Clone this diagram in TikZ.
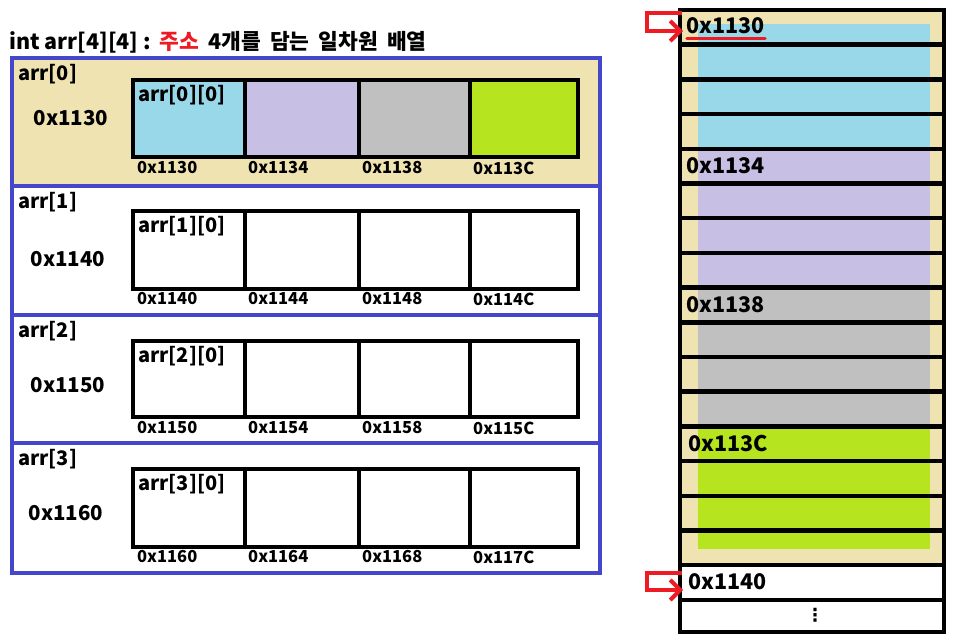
\documentclass[tikz,border=0pt]{standalone}
\usepackage{fontspec}
\setmainfont{Noto Sans CJK KR}
\newfontfamily\dv{DejaVu Sans}
\usetikzlibrary{arrows.meta}
\definecolor{bdblue}{RGB}{68,70,204}
\definecolor{tanbg}{RGB}{239,227,178}
\definecolor{cblue}{RGB}{152,216,232}
\definecolor{clav}{RGB}{200,192,228}
\definecolor{cgray}{RGB}{192,192,192}
\definecolor{clime}{RGB}{182,228,30}
\definecolor{cred}{RGB}{237,28,36}
\tikzset{
  txt/.style={font=\bfseries\fontsize{20}{22}\selectfont, inner sep=0pt, anchor=west},
  bigtxt/.style={font=\bfseries\fontsize{20.5}{22}\selectfont, inner sep=0pt},
  smalltxt/.style={font=\bfseries\fontsize{16.5}{18}\selectfont, inner sep=0pt, anchor=west},
  memtxt/.style={font=\bfseries\fontsize{21.5}{23}\selectfont, inner sep=0pt, anchor=west},
  cellbox/.style={draw=black, line width=4pt},
  rowbox/.style={draw=bdblue, line width=4pt},
  redarrow/.style={draw=cred, line width=4pt, -{Straight Barb[length=10pt,width=20pt,line width=4pt]}},
}
\newcommand{\ws}{\hspace{0.42em}}
\begin{document}
\begin{tikzpicture}[x=1pt,y=-1pt]
\useasboundingbox (0,0) rectangle (962,642);
% title
\node[txt, font=\bfseries\fontsize{21.5}{23}\selectfont] (title) at (9,42) {int arr[4][4] :\ws\textcolor{cred}{주소}\ws 4개를\ws 담는\ws 일차원\ws 배열};

% left rows
\fill[tanbg] (12,58) rectangle (600,186);
\foreach \i/\rt/\rb/\ax/\ay/\addr in {0/58/186/71/118/0x1130, 1/186/315/68/259/0x1140, 2/315/443/68/385/0x1150, 3/443/573/66/513/0x1160}{
  \draw[rowbox] (12,\rt) rectangle (600,\rb);
  \node[txt] (rl\i) at (18,{\rt+16}) {arr[\i]};
  \node[bigtxt] (ra\i) at (\ax,\ay) {\addr};
}
% cells row 0 colored
\fill[cblue] (133,80) rectangle (245,157);
\fill[clav] (245,80) rectangle (359,157);
\fill[cgray] (359,80) rectangle (470,157);
\fill[clime] (470,80) rectangle (578,157);
\foreach \i/\bt/\bb in {0/80/157, 1/211/289, 2/341/417, 3/469/547}{
  \draw[cellbox] (133,\bt) rectangle (578,\bb);
  \foreach \x in {245,359,470}{ \draw[cellbox] (\x,\bt) -- (\x,\bb); }
  \node[txt] (cl\i) at (138,{\bt+15}) {arr[\i][0]};
}
% cell addresses
\foreach \i/\y/\a/\b/\c/\d in {0/168/0x1130/0x1134/0x1138/0x113C, 1/299/0x1140/0x1144/0x1148/0x114C, 2/428/0x1150/0x1154/0x1158/0x115C, 3/557/0x1160/0x1164/0x1168/0x117C}{
  \node[smalltxt] (ad\i a) at (137,\y) {\a};
  \node[smalltxt] (ad\i b) at (248,\y) {\b};
  \node[smalltxt] (ad\i c) at (362,\y) {\c};
  \node[smalltxt] (ad\i d) at (473,\y) {\d};
}

% memory
\fill[tanbg] (680,10) rectangle (944,565);
\fill[cblue] (698,24) rectangle (930,148.8);
\fill[clav] (698,148.8) rectangle (930,287.6);
\fill[cgray] (698,287.6) rectangle (930,426.4);
\fill[clime] (698,426.4) rectangle (930,549);
\foreach \k in {1,...,15}{
  \draw[black, line width=4.5pt] (680,{10+\k*34.7}) -- (944,{10+\k*34.7});
}
\draw[black, line width=4.5pt] (680,565) -- (944,565);
\draw[black, line width=4.5pt] (680,600) -- (944,600);
\draw[black, line width=4.5pt] (680,10) rectangle (944,632);

\node[memtxt] (m0) at (686,26) {0x1130};
\draw[cred, line width=3.5pt, line cap=round] (m0.south west) ++(1,4) coordinate (ul0) -- ++(78,0) coordinate (ul1);
\node[memtxt] (m1) at (686,166) {0x1134};
\node[memtxt] (m2) at (686,305) {0x1138};
\node[memtxt] (m3) at (688,443) {0x113C};
\node[memtxt] (m4) at (688,582) {0x1140};
\node[font=\dv\bfseries\fontsize{18}{20}\selectfont, inner sep=0pt] (dots) at (815,615) {⋮};

% red arrows
\coordinate (a0s) at (682,13);
\coordinate (a0t) at (683,31);
\draw[redarrow] (a0s) -- (647,13) -- (647,31) -- (a0t);
\coordinate (a1s) at (682,573);
\coordinate (a1t) at (683,590);
\draw[redarrow] (a1s) -- (647,573) -- (647,590) -- (a1t);
\end{tikzpicture}
\end{document}
